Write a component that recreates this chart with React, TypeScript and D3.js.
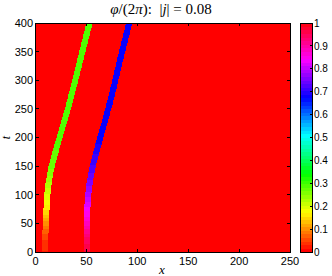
import React from "react";
import * as d3 from "d3";

const tKnots = [0, 25, 50, 75, 100, 125, 150, 175, 200, 225, 250, 275, 300, 325, 350, 375, 400];
// Track 1 (yellow→green): centre position x and phase value φ/(2π)
const track1X = [9.2, 9.5, 10.2, 10.8, 11.6, 13.2, 15.8, 19.6, 23.5, 27.6, 31.8, 35.4, 39.0, 42.5, 46.0, 49.5, 53.0];
const track1V = [0.03, 0.05, 0.1, 0.16, 0.2, 0.24, 0.27, 0.28, 0.29, 0.29, 0.29, 0.29, 0.29, 0.29, 0.29, 0.29, 0.29];
// Track 2 (magenta→blue)
const track2X = [50.8, 50.5, 50.4, 50.8, 51.8, 53.5, 56.2, 59.8, 63.6, 67.6, 71.4, 75.0, 78.4, 81.6, 85.0, 88.5, 92.0];
const track2V = [0.97, 0.94, 0.88, 0.84, 0.79, 0.75, 0.72, 0.7, 0.68, 0.68, 0.68, 0.68, 0.68, 0.68, 0.68, 0.68, 0.68];
const backgroundValue = 0;
const trackWidth = 6;

const xTicks = [0, 50, 100, 150, 200, 250];
const yTicks = [0, 50, 100, 150, 200, 250, 300, 350, 400];
const cbTicks = [0, 0.1, 0.2, 0.3, 0.4, 0.5, 0.6, 0.7, 0.8, 0.9, 1];
const cbLabels = ["0", "0.1", "0.2", "0.3", "0.4", "0.5", "0.6", "0.7", "0.8", "0.9", "1"];

const NLEV = 64;
const hsv = (v: number) => {
  let i = Math.floor(v * NLEV);
  if (i >= NLEV) i = NLEV - 1;
  if (i < 0) i = 0;
  return d3.hsl((i / NLEV) * 360, 1, 0.5).formatHex();
};

export default function App() {
  const W = 332, H = 276;
  const L = 35.5, R = 290, T = 23, B = 252;
  const x = d3.scaleLinear().domain([0, 250]).range([L, R]);
  const y = d3.scaleLinear().domain([0, 400]).range([B, T]);
  const cbL = 300.5, cbR = 312;
  const cy = d3.scaleLinear().domain([0, 1]).range([B, T]);

  const rowStep = 2;
  const rows = d3.range(0, 400, rowStep);
  const tracks = [
    { xs: d3.scaleLinear().domain(tKnots).range(track1X), vs: d3.scaleLinear().domain(tKnots).range(track1V) },
    { xs: d3.scaleLinear().domain(tKnots).range(track2X), vs: d3.scaleLinear().domain(tKnots).range(track2V) },
  ];

  const levels = d3.range(NLEV);
  const tickLen = 3;
  const sans = "'Liberation Sans', Arial, Helvetica, sans-serif";
  const serif = "'Liberation Serif', 'Times New Roman', serif";

  return (
    <svg width={W} height={H} style={{ position: "absolute", left: 0, top: 0 }} shapeRendering="crispEdges">
      <rect x={0} y={0} width={W} height={H} fill="#fff" />
      {/* background field */}
      <rect x={L} y={T} width={R - L} height={B - T} fill={hsv(backgroundValue)} />
      {tracks.map((tr, k) =>
        rows.map((t0) => {
          const tm = t0 + rowStep / 2;
          const xc = tr.xs(tm);
          const y0 = y(t0 + rowStep), y1 = y(t0);
          return (
            <rect
              key={k + "-" + t0}
              x={x(xc - trackWidth / 2)}
              y={y0}
              width={x(xc + trackWidth / 2) - x(xc - trackWidth / 2)}
              height={y1 - y0 + 0.3}
              fill={hsv(tr.vs(tm))}
            />
          );
        })
      )}
      {/* frame */}
      <rect x={L} y={T} width={R - L} height={B - T} fill="none" stroke="#000" strokeWidth={1} />
      {xTicks.map((v) => (
        <g key={"xt" + v}>
          <line x1={x(v)} x2={x(v)} y1={B} y2={B - tickLen} stroke="#000" />
          <line x1={x(v)} x2={x(v)} y1={T} y2={T + tickLen} stroke="#000" />
          <text x={x(v)} y={265} textAnchor="middle" fontFamily={sans} fontSize={11} fill="#000">{v}</text>
        </g>
      ))}
      {yTicks.map((v) => (
        <g key={"yt" + v}>
          <line x1={L} x2={L + tickLen} y1={y(v)} y2={y(v)} stroke="#000" />
          <line x1={R} x2={R - tickLen} y1={y(v)} y2={y(v)} stroke="#000" />
          <text x={33} y={y(v)} dy="0.36em" textAnchor="end" fontFamily={sans} fontSize={11} fill="#000">{v}</text>
        </g>
      ))}
      {/* colorbar */}
      {levels.map((i) => (
        <rect
          key={"cb" + i}
          x={cbL}
          y={cy((i + 1) / NLEV)}
          width={cbR - cbL}
          height={cy(i / NLEV) - cy((i + 1) / NLEV) + 0.3}
          fill={hsv(i / NLEV)}
        />
      ))}
      <rect x={cbL} y={T} width={cbR - cbL} height={B - T} fill="none" stroke="#000" strokeWidth={1} />
      {cbTicks.map((v, i) => (
        <g key={"cbt" + v}>
          <line x1={cbR} x2={cbR - 2} y1={cy(v)} y2={cy(v)} stroke="#000" />
          <text x={314} y={cy(v)} dy="0.36em" fontFamily={sans} fontSize={10} fill="#000">{cbLabels[i]}</text>
        </g>
      ))}
      {/* title */}
      <text x={161} y={14} textAnchor="middle" fontFamily={serif} fontSize={15} fill="#000" xmlSpace="preserve">
        <tspan fontStyle="italic">φ</tspan>/(2<tspan fontStyle="italic">π</tspan>):  |<tspan fontStyle="italic">j</tspan>| = 0.08
      </text>
      <text x={162} y={274} textAnchor="middle" fontFamily={serif} fontStyle="italic" fontSize={13} fill="#000">x</text>
      <text transform={`translate(10,${y(200)}) rotate(-90)`} textAnchor="middle" fontFamily={serif} fontStyle="italic" fontSize={12} fill="#000">t</text>
    </svg>
  );
}
